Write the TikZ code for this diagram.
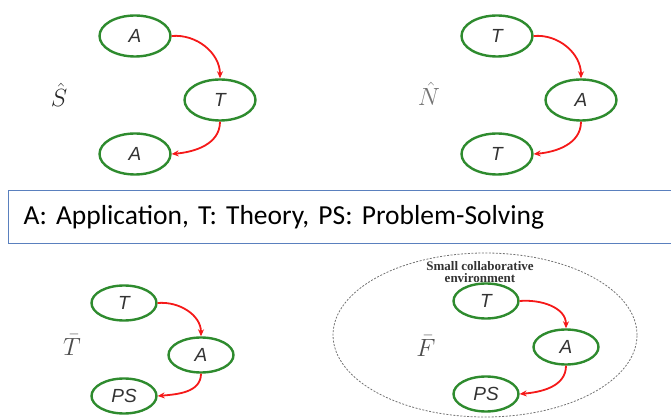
\documentclass[tikz,border=0pt]{standalone}
\usepackage{xcolor}
\usepackage{amsmath}
\usepackage{amssymb}
\usepackage{fontspec}
\usetikzlibrary{shapes.geometric,arrows.meta}
\newfontfamily\keyfont{Carlito}
\newfontfamily\labelfont{Liberation Sans}
\newfontfamily\notefont{Liberation Serif}
\definecolor{stage}{RGB}{46,139,46}
\definecolor{flow}{RGB}{245,25,25}
\definecolor{keyline}{RGB}{90,128,190}
\tikzset{
    stagenode/.style={draw=stage,line width=2.4pt,ellipse,minimum width=71pt,minimum height=41pt,
        font=\labelfont\itshape\fontsize{19}{21}\selectfont,text=black!80},
    smallstage/.style={stagenode,minimum width=65pt,minimum height=35pt},
    flowarrow/.style={draw=flow,line width=1.8pt,-{Stealth[length=7pt,width=6pt]}},
    modelname/.style={font=\Huge}
}

\begin{document}
\begin{tikzpicture}[x=1pt,y=-1pt]
    \useasboundingbox (0,0) rectangle (671,419);
    % S-hat: A -> T -> A
    \node[modelname,text=black!85] (sname) at (59,95) {$\hat{S}$};
    \node[stagenode] (sa1) at (135,36) {A};
    \node[stagenode] (st) at (220,100) {T};
    \node[stagenode] (sa2) at (135,154) {A};
    \draw[flowarrow] (sa1.east) to[out=5,in=90] (st.north);
    \draw[flowarrow] (st.south) to[out=-90,in=5] (sa2.east);
    % N-hat: T -> A -> T
    \node[modelname,text=black!55] (nname) at (429,94) {$\hat{N}$};
    \node[stagenode] (nt1) at (497,36) {T};
    \node[stagenode] (na) at (581,100) {A};
    \node[stagenode] (nt2) at (497,154) {T};
    \draw[flowarrow] (nt1.east) to[out=5,in=90] (na.north);
    \draw[flowarrow] (na.south) to[out=-90,in=5] (nt2.east);
    % legend
    \node[draw=keyline,line width=1.2pt,rectangle,anchor=north west,minimum width=680pt,minimum height=53pt,
        text width=650pt,inner xsep=14pt,align=left,font=\keyfont\fontsize{27.5}{30}\selectfont] (key) at (8,190)
        {A: Application, T: Theory, PS: Problem-Solving};
    % T-bar: T -> A -> PS
    \node[modelname,text=black!70] (tname) at (72,345) {$\bar{T}$};
    \node[smallstage] (tt) at (124,303) {T};
    \node[smallstage] (ta) at (201,355) {A};
    \node[smallstage] (tps) at (124,396) {PS};
    \draw[flowarrow] (tt.east) to[out=5,in=90] (ta.north);
    \draw[flowarrow] (ta.south) to[out=-90,in=5] (tps.east);
    % F-bar inside the small collaborative environment
    \node[draw=black!55,dashed,dash pattern=on 2pt off 1.5pt,line width=0.8pt,ellipse,minimum width=304pt,minimum height=164pt] (env) at (485,335) {};
    \node[font=\notefont\bfseries\fontsize{13}{12}\selectfont,text=black!80,align=center] (envnote) at (480,272) {Small collaborative\\environment};
    \node[modelname,text=black!70] (fname) at (426,346) {$\bar{F}$};
    \node[smallstage] (ft) at (486,301) {T};
    \node[smallstage] (fa) at (566,347) {A};
    \node[smallstage] (fps) at (486,394) {PS};
    \draw[flowarrow] (ft.east) to[out=5,in=90] (fa.north);
    \draw[flowarrow] (fa.south) to[out=-90,in=5] (fps.east);
\end{tikzpicture}
\end{document}
